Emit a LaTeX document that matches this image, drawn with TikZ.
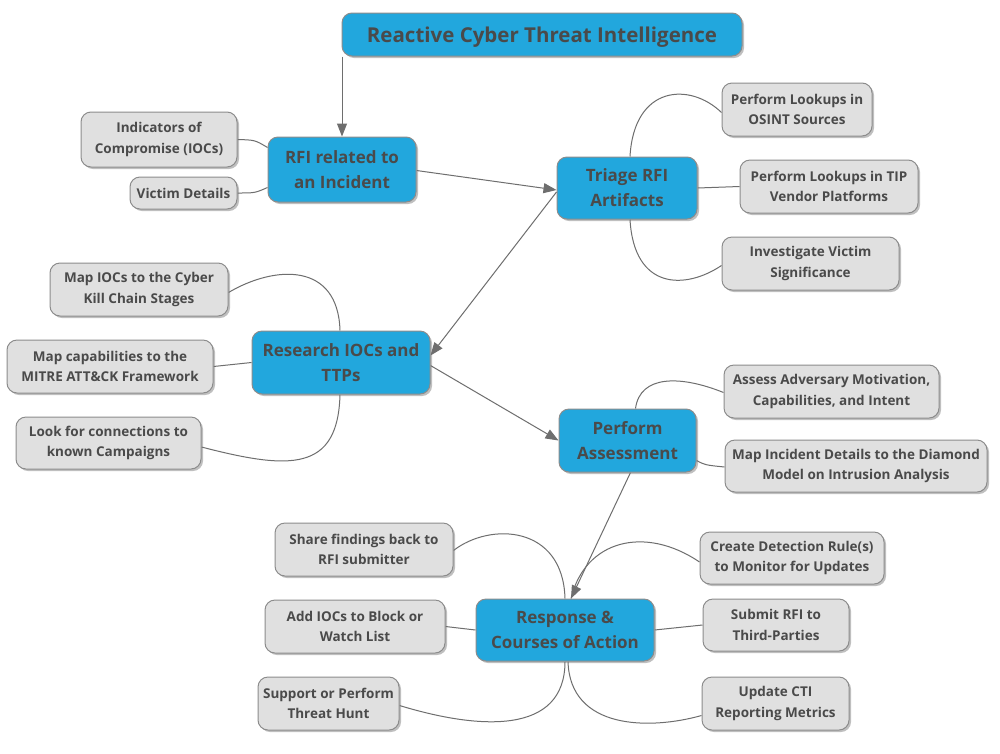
\documentclass[tikz,border=0pt]{standalone}
\usepackage{fontspec}
\setmainfont{Open Sans}
\usetikzlibrary{shadows,arrows.meta,backgrounds}
\definecolor{cblue}{HTML}{22A7DD}
\definecolor{cgray}{HTML}{E0E0E0}
\definecolor{cborder}{HTML}{8C8C8C}
\definecolor{ctext}{HTML}{4A4A4A}
\definecolor{cline}{HTML}{6E6E6E}
\begin{document}
\begin{tikzpicture}[x=1pt,y=-1pt,
  boxbase/.style={rounded corners=10pt, draw=cborder, line width=1pt, text=ctext,
    align=center, inner sep=0pt,
    drop shadow={shadow xshift=2pt,shadow yshift=-2pt,opacity=0.45,fill=black!55}},
  topbox/.style={boxbase, fill=cblue, font=\bfseries\fontsize{20.5}{26}\selectfont},
  mainbox/.style={boxbase, fill=cblue, font=\bfseries\fontsize{17}{25}\selectfont},
  subbox/.style={boxbase, fill=cgray, font=\bfseries\fontsize{13.5}{20.5}\selectfont},
  conn/.style={draw=cline, line width=1pt},
  arr/.style={conn, -{Triangle[length=13pt,width=10pt]}, color=cline}]
\useasboundingbox (0,0) rectangle (1000,753);

% main nodes
\node[topbox, minimum width=400pt, minimum height=43pt, text depth=0pt, text height=15pt] (title) at (542,34.5) {Reactive Cyber Threat Intelligence};
\node[mainbox, minimum width=148pt, minimum height=65pt] (rfi) at (342,169.5) {RFI related to\\an Incident};
\node[mainbox, minimum width=140pt, minimum height=62pt] (triage) at (627,188) {Triage RFI\\Artifacts};
\node[mainbox, minimum width=178pt, minimum height=63pt] (research) at (341,362.5) {Research IOCs and\\TTPs};
\node[mainbox, minimum width=137pt, minimum height=63pt] (assess) at (627.5,440.5) {Perform\\Assessment};
\node[mainbox, minimum width=178pt, minimum height=62pt] (resp) at (565,630) {Response \&\\Courses of Action};

% sub nodes
\node[subbox, minimum width=156pt, minimum height=55pt] (ioc) at (159,139.5) {Indicators of\\Compromise (IOCs)};
\node[subbox, minimum width=107pt, minimum height=32pt] (victim) at (183.5,193) {Victim Details};
\node[subbox, minimum width=150pt, minimum height=53pt] (osint) at (797,109.5) {Perform Lookups in\\OSINT Sources};
\node[subbox, minimum width=178pt, minimum height=53pt] (tip) at (829,186.5) {Perform Lookups in TIP\\Vendor Platforms};
\node[subbox, minimum width=177pt, minimum height=53pt] (vsig) at (810.5,263.5) {Investigate Victim\\Significance};
\node[subbox, minimum width=178pt, minimum height=53pt] (ckc) at (139,289.5) {Map IOCs to the Cyber\\Kill Chain Stages};
\node[subbox, minimum width=206pt, minimum height=53pt] (mitre) at (110,366.5) {Map capabilities to the\\MITRE ATT\&CK Framework};
\node[subbox, minimum width=185pt, minimum height=52pt] (camp) at (108.5,443) {Look for connections to\\known Campaigns};
\node[subbox, minimum width=215pt, minimum height=53pt] (motiv) at (831.5,391.5) {Assess Adversary Motivation,\\Capabilities, and Intent};
\node[subbox, minimum width=262pt, minimum height=52pt] (diamond) at (856,466) {Map Incident Details to the Diamond\\Model on Intrusion Analysis};
\node[subbox, minimum width=178pt, minimum height=53pt] (share) at (364,549.5) {Share findings back to\\RFI submitter};
\node[subbox, minimum width=184pt, minimum height=52pt] (detect) at (792,558) {Create Detection Rule(s)\\to Monitor for Updates};
\node[subbox, minimum width=180pt, minimum height=53pt] (block) at (355,626.5) {Add IOCs to Block or\\Watch List};
\node[subbox, minimum width=146pt, minimum height=52pt] (third) at (776,625) {Submit RFI to\\Third-Parties};
\node[subbox, minimum width=141pt, minimum height=53pt] (hunt) at (328.5,703.5) {Support or Perform\\Threat Hunt};
\node[subbox, minimum width=147pt, minimum height=53pt] (metrics) at (775.5,703.5) {Update CTI\\Reporting Metrics};

\begin{scope}[on background layer]
\fill[white] (0,0) rectangle (1000,753);
% flow arrows
\draw[arr] (rfi.north |- title.south) -- (rfi.north);
\draw[arr] ([yshift=-1pt]rfi.east) -- ([yshift=-2pt]triage.west);
\draw[arr] ([yshift=-4pt]triage.west) -- ([yshift=7pt]research.east);
\draw[arr] ([yshift=-3pt]research.east) -- (assess.west);
\draw[arr] ([xshift=3pt]assess.south) -- ([xshift=6pt]resp.north);

% child connectors
\draw[conn] (ioc.east) .. controls (255,140) .. ([yshift=22pt]rfi.west);
\draw[conn] (victim.east) .. controls (255,193) .. ([yshift=-18pt]rfi.west);
\draw[conn] ([xshift=3pt]triage.north) .. controls (634,85) and (690,82) .. ([yshift=-3pt]osint.west);
\draw[conn] (triage.east) -- (tip.west);
\draw[conn] ([xshift=3pt]triage.south) .. controls (634,290) and (685,290) .. ([yshift=-2pt]vsig.west);
\draw[conn] ([xshift=-1pt]research.north) .. controls (338,262) and (275,265) .. ([yshift=-3pt]ckc.east);
\draw[conn] (mitre.east) -- (research.west);
\draw[conn] ([xshift=-1pt]research.south) .. controls (338,472) and (290,470) .. ([yshift=-4pt]camp.east);
\draw[conn] ([xshift=8pt]assess.north) .. controls (640,375) and (680,375) .. ([yshift=-1pt]motiv.west);
\draw[conn] ([yshift=-20pt]assess.east) .. controls (705,465) .. ([yshift=-1pt]diamond.west);
\draw[conn] (resp.north) .. controls (563,525) and (490,522) .. ([yshift=-1pt]share.east);
\draw[conn] ([xshift=6pt]resp.north) .. controls (585,540) and (645,525) .. ([yshift=-4pt]detect.west);
\draw[conn] (block.east) -- (resp.west);
\draw[conn] (resp.east) -- (third.west);
\draw[conn] (resp.south) .. controls (565,735) and (480,730) .. ([yshift=-2pt]hunt.east);
\draw[conn] ([xshift=3pt]resp.south) .. controls (570,730) and (650,730) .. ([yshift=-12pt]metrics.west);
\end{scope}
\end{tikzpicture}
\end{document}
